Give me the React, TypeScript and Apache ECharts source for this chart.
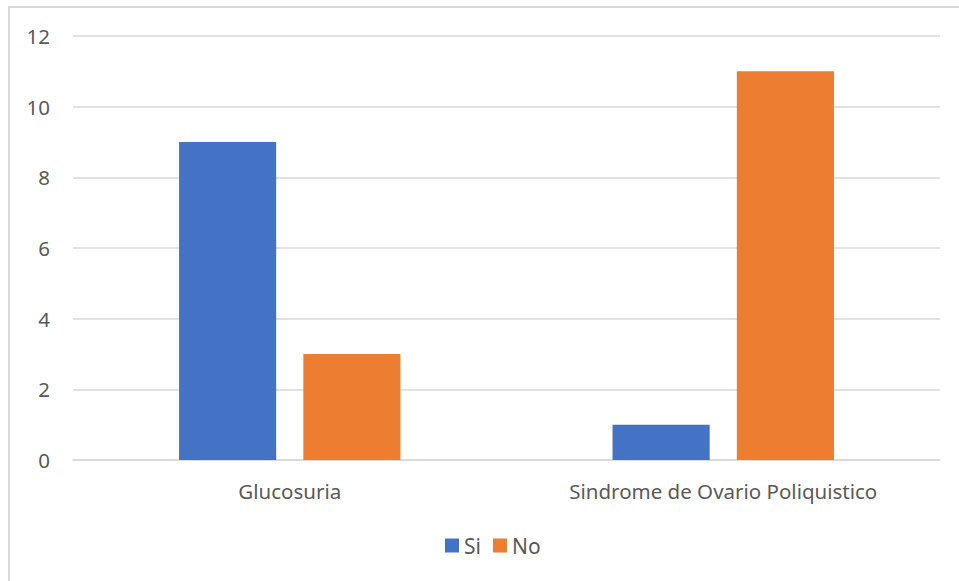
import React, { useEffect, useRef } from "react";
import * as echarts from "echarts";

const categories = ["Glucosuria", "Sindrome de Ovario Poliquistico"];
const seriesNames = ["Si", "No"];
const siValues = [9, 1];
const noValues = [3, 11];
const yTicks = { min: 0, max: 12, interval: 2 };

const FONT = "'Noto Sans', 'Open Sans', sans-serif";
const TEXT = "#595959";

export default function App() {
  const ref = useRef<HTMLDivElement>(null);
  useEffect(() => {
    if (!ref.current) return;
    const chart = echarts.init(ref.current, null, { renderer: "svg" });
    chart.setOption({
      animation: false,
      backgroundColor: "#ffffff",
      textStyle: { fontFamily: FONT },
      graphic: [
        {
          type: "rect",
          shape: { x: 9, y: 7, width: 2000, height: 2000 },
          style: { fill: "none", stroke: "#d9d9d9", lineWidth: 2 },
          silent: true,
          z: -1,
        },
      ],
      grid: { left: 73, right: 19, top: 36, bottom: 121, containLabel: false },
      legend: {
        data: seriesNames,
        left: 440,
        top: 530,
        itemWidth: 14,
        itemHeight: 14,
        itemGap: 12,
        icon: "rect",
        textStyle: { color: TEXT, fontSize: 21, fontFamily: FONT },
      },
      xAxis: {
        type: "category",
        data: categories,
        axisTick: { show: false },
        axisLine: { lineStyle: { color: "#d9d9d9", width: 1.5 } },
        axisLabel: { color: TEXT, fontSize: 20.5, fontFamily: FONT, margin: 20 },
      },
      yAxis: {
        type: "value",
        min: yTicks.min,
        max: yTicks.max,
        interval: yTicks.interval,
        axisLine: { show: false },
        axisTick: { show: false },
        splitLine: { lineStyle: { color: "#d9d9d9", width: 1.5 } },
        axisLabel: { color: TEXT, fontSize: 20.5, fontFamily: FONT, margin: 23 },
      },
      series: [
        {
          name: seriesNames[0],
          type: "bar",
          data: siValues,
          barWidth: "22.4%",
          barGap: "28%",
          itemStyle: { color: "#4472C4" },
        },
        {
          name: seriesNames[1],
          type: "bar",
          data: noValues,
          barWidth: "22.4%",
          barGap: "28%",
          itemStyle: { color: "#ED7D31" },
        },
      ],
    });
    return () => chart.dispose();
  }, []);
  return (
    <div
      ref={ref}
      style={{ position: "fixed", left: 0, top: 0, width: 959, height: 581 }}
    />
  );
}
